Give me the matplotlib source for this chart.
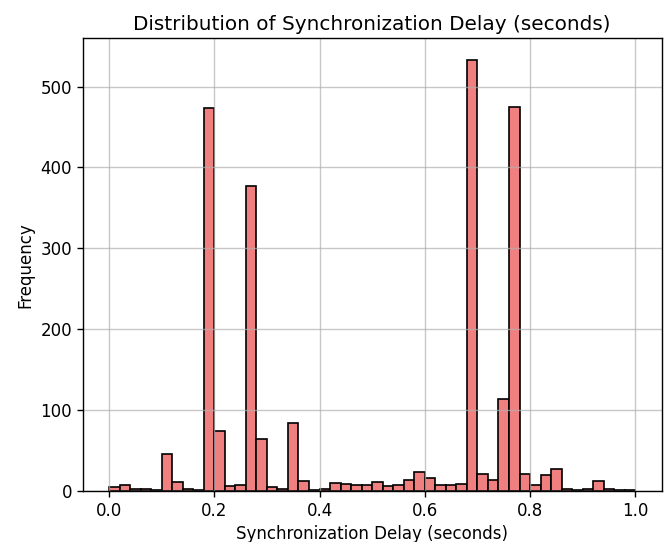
# plot.py
# histogram of synchronization delays, rebuilt from counts
import matplotlib
matplotlib.use('Agg')
import matplotlib.pyplot as plt
import numpy as np

# 50 bins of 0.02 s between 0 and 1
bin_edges = np.linspace(0.0, 1.0, 51)
counts = [5, 7, 3, 3, 1, 46, 11, 3, 1, 474,
          74, 6, 7, 377, 64, 5, 3, 84, 12, 1,
          3, 10, 9, 8, 7, 11, 6, 8, 14, 23,
          16, 7, 7, 9, 533, 21, 13, 114, 475, 21,
          8, 20, 27, 2, 1, 3, 12, 2, 1, 1]
bin_centres = (bin_edges[:-1] + bin_edges[1:]) / 2

# picture looks like a default plot drawn at a bit higher dpi, so scale lines up
plt.rcParams['axes.linewidth'] = 1.0
plt.rcParams['xtick.major.width'] = 1.0
plt.rcParams['ytick.major.width'] = 1.0
plt.rcParams['xtick.major.size'] = 4.2
plt.rcParams['ytick.major.size'] = 4.2

fig = plt.figure(figsize=(6.69, 5.42), dpi=100)
ax = fig.add_axes([0.1236, 0.0941, 0.8654, 0.8352])

ax.hist(bin_centres, bins=bin_edges, weights=counts,
        color='lightcoral', edgecolor='black', linewidth=1.2)

ax.set_title('Distribution of Synchronization Delay (seconds)', fontsize=14.4)
ax.set_xlabel('Synchronization Delay (seconds)', fontsize=12)
ax.set_ylabel('Frequency', fontsize=12)
ax.tick_params(labelsize=12)
ax.grid(True, alpha=0.7, linewidth=1.0)

fig.savefig('out.png', dpi=100)
